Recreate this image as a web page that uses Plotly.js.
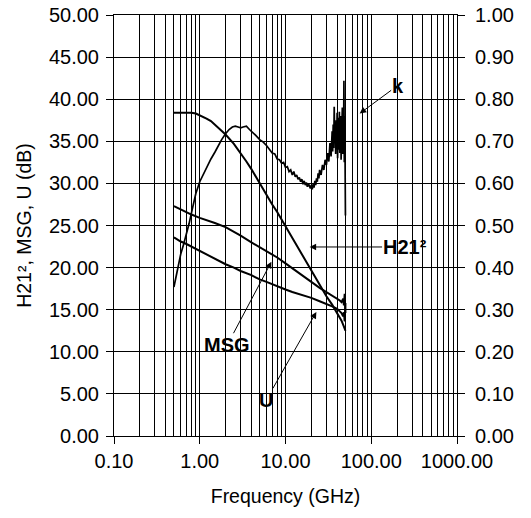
<!DOCTYPE html>
<html>
<head>
<meta charset="utf-8">
<script src="https://cdn.plot.ly/plotly-3.0.1.min.js"></script>
<style>html,body{margin:0;padding:0;background:#fff;}#chart{width:531px;height:518px;}</style>
</head>
<body>
<div id="chart"></div>
<script>
// ---- data ----
var freqH21 = [0.5,0.6,0.7,0.8,0.9,1.0,1.1,1.2,1.35,1.5,1.7,2.0,2.5,3.0,3.5,4.0,5.0,6.0,7.0,8.0,10,12,15,17.5,20,25,30,35,40,45,48,50];
var h21Values = [38.4,38.4,38.4,38.4,38.3,38.1,37.9,37.7,37.4,37.0,36.5,35.8,34.7,33.6,32.6,31.7,30.0,28.7,27.5,26.6,24.9,23.5,21.9,20.8,19.7,18.0,16.6,15.6,14.6,13.7,13.0,12.5];

var freqMsg = [0.5,0.6,0.7,0.8,1.0,1.25,1.5,2.0,2.5,3.0,4.0,5.0,6.0,7.0,8.0,10,12,15,20,25,30,35,40,43,45,47,48,49,50];
var msgValues = [27.3,26.9,26.6,26.3,25.9,25.6,25.3,24.8,24.3,23.8,23.0,22.4,22.0,21.6,21.2,20.5,19.9,19.2,18.3,17.6,17.1,16.7,16.3,16.1,15.9,16.3,15.5,16.9,14.6];

var freqU = [0.5,0.6,0.7,0.8,1.0,1.25,1.5,2.0,2.5,3.0,4.0,5.0,6.0,7.0,8.0,10,12,15,20,25,30,35,40,43,45,47,48,49,50];
var uValues = [23.6,23.1,22.8,22.5,22.0,21.5,21.0,20.4,20.0,19.6,19.1,18.6,18.3,18.0,17.8,17.4,17.1,16.8,16.4,16.0,15.7,15.4,15.1,14.8,14.6,14.2,14.7,13.6,15.8];

var freqK = [0.5,0.55,0.6,0.65,0.7,0.75,0.8,0.85,0.9,1.0,1.1,1.2,1.35,1.5,1.65,1.8,2.0,2.2,2.4,2.6,2.8,3.0,3.2,3.5,3.8,4.0,4.5,5.0,5.5,6.0,6.5,7.0,7.5,8.0,8.5,9.0,9.5,10,10.5,11,11.5,12,12.5,13,13.5,14,14.5,15,15.5,16,16.5,17,17.5,18,18.5,19,19.5,20,20.5,21,21.5,22,22.5,23,23.5,24,24.5,25,26,27,28,29,30,31,32,33,34,35,35.5,36,36.5,37,37.5,38,38.5,39,39.5,40,40.5,41,41.5,42,42.5,43,43.5,44,44.5,45,45.5,46,46.5,47,47.5,48,48.5,49,49.5,50];
var kValues = [0.354,0.396,0.432,0.456,0.478,0.504,0.53,0.556,0.576,0.604,0.622,0.638,0.658,0.674,0.69,0.704,0.718,0.728,0.734,0.736,0.734,0.732,0.734,0.736,0.728,0.724,0.714,0.704,0.698,0.69,0.682,0.672,0.67,0.658,0.656,0.648,0.65,0.638,0.64,0.628,0.632,0.62,0.628,0.616,0.62,0.61,0.614,0.604,0.61,0.598,0.606,0.596,0.602,0.592,0.6,0.594,0.588,0.596,0.586,0.598,0.59,0.606,0.596,0.612,0.604,0.624,0.612,0.632,0.62,0.644,0.632,0.656,0.644,0.672,0.652,0.696,0.664,0.724,0.676,0.74,0.684,0.782,0.70,0.736,0.67,0.75,0.69,0.768,0.66,0.72,0.756,0.68,0.77,0.672,0.73,0.76,0.656,0.74,0.70,0.78,0.67,0.72,0.684,0.844,0.65,0.76,0.66,0.524];

var xTickVals = [0.1,1,10,100,1000];
var xTickText = ['0.10','1.00','10.00','100.00','1000.00'];

var lineStyle = {color:'#000', width:2};
var traces = [
  {x:freqH21, y:h21Values, type:'scatter', mode:'lines', line:lineStyle, name:'H21²'},
  {x:freqMsg, y:msgValues, type:'scatter', mode:'lines', line:lineStyle, name:'MSG'},
  {x:freqU, y:uValues, type:'scatter', mode:'lines', line:lineStyle, name:'U'},
  {x:freqK, y:kValues, type:'scatter', mode:'lines', line:{color:'#000', width:1.7}, name:'k', yaxis:'y2'}
];

var FONT = 'Liberation Sans, Arial, Helvetica, sans-serif';
var annFont = {family:FONT, size:20, color:'#000'};
function ann(text, fx, vy, ax, ay){
  return {text:'<b>'+text+'</b>', x:Math.log10(fx), y:vy, xref:'x', yref:'y',
          showarrow:true, arrowhead:2, arrowsize:1.3, arrowwidth:1, arrowcolor:'#000',
          ax:ax, ay:ay, font:annFont, borderpad:0};
}

var layout = {
  width:531, height:518,
  margin:{l:114, r:74, t:15, b:82},
  paper_bgcolor:'#fff', plot_bgcolor:'#fff',
  font:{family:FONT, size:20, color:'#000'},
  showlegend:false,
  xaxis:{type:'log', range:[-1,3], tickmode:'array', tickvals:xTickVals, ticktext:xTickText,
         ticks:'outside', ticklen:7, tickcolor:'#000', tickwidth:1,
         showgrid:true, gridcolor:'#000', gridwidth:1,
         minor:{showgrid:true, gridcolor:'#000', gridwidth:1, dtick:'D1', ticks:''},
         showline:true, linecolor:'#000', linewidth:1, mirror:true, zeroline:false,
         title:{text:'Frequency (GHz)', font:{family:FONT, size:19.5}, standoff:18}},
  yaxis:{range:[0,50], dtick:5, tickformat:'.2f', ticks:'outside', ticklen:7, tickcolor:'#000',
         ticklabelstandoff:3,
         showgrid:true, gridcolor:'#000', gridwidth:1, showline:true, linecolor:'#000', zeroline:false,
         title:{text:'H21², MSG, U (dB)', font:{family:FONT, size:19.5}, standoff:12}},
  yaxis2:{range:[0,1], dtick:0.1, tickformat:'.2f', overlaying:'y', side:'right',
          ticks:'outside', ticklen:7, tickcolor:'#000', showline:true, linecolor:'#000',
          ticklabelstandoff:6,
          showgrid:false, zeroline:false},
  annotations:[
    ann('k', 73.3, 38.3, 38, -28),
    ann('H21²', 19.1, 22.45, 95, 0),
    ann('MSG', 6.85, 20.7, -44, 83),
    ann('U', 22.9, 14.74, -50, 88)
  ]
};

Plotly.newPlot('chart', traces, layout, {staticPlot:true, displayModeBar:false});
</script>
</body>
</html>
